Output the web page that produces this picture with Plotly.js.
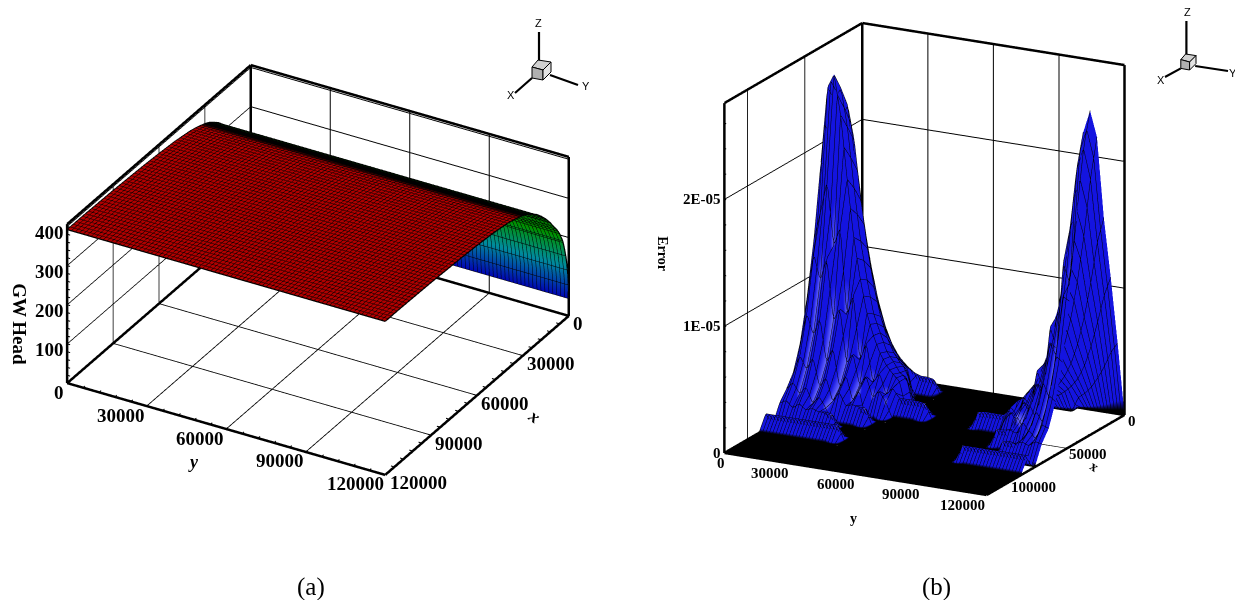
<!DOCTYPE html>
<html><head><meta charset="utf-8">
<script src="https://cdn.plot.ly/plotly-3.0.1.min.js"></script>
<style>html,body{margin:0;padding:0;background:#fff}#c{width:1235px;height:600px}</style>
</head><body><div id="c"></div>
<script>
// ---------- data ----------
const headX=[0,500,1000,1500,2000,3000,4000,6000,8000,10000,12000,15000,18000,21000,24000,27000,30000,35000,40000,50000,60000,70000,80000,90000,100000,110000,120000];
const headValues=[44,100,125,145,160,185,205,230,248,262,278,298,315,330,341,351,358,366,372,379,383,386,388,390,391,392,392];
const headY=[0,20000,40000,60000,80000,100000,120000];
const errX=[0,6000,12000,18000,24000,30000,36000,42000,48000,54000,60000,66000,72000,78000,84000,90000,96000,102000,108000,114000,120000];
const errY=[0,3000,6000,9000,12000,15000,18000,21000,24000,27000,30000,33000,36000,39000,42000,45000,48000,51000,54000,57000,60000,63000,66000,69000,72000,75000,78000,81000,84000,87000,90000,93000,96000,99000,102000,105000,108000,111000,114000,117000,120000];
// error in units of 1E-07; one row per errX station; y = 0..60000
const errLeft=[
[0,0,0,0,0,0,0,0,0,0,0,0,0,0,0,0,0,0,0,0,0],
[42,56,60,52,40,30,22,16,12,0,0,0,0,0,0,0,0,0,0,0,0],
[85,110,115,100,78,58,42,31,24,19,15,13,13,12,0,0,0,0,0,0,0],
[120,158,165,145,112,84,62,46,35,27,22,0,0,0,0,0,0,0,0,0,0],
[165,215,225,198,152,115,85,63,47,36,29,24,0,0,0,0,0,0,0,0,0],
[178,232,242,212,165,124,94,68,54,40,33,25,22,0,0,0,0,0,0,0,0],
[185,245,256,225,175,130,98,72,55,42,33,27,22,0,0,0,0,0,0,0,0],
[128,150,175,125,140,72,88,38,52,22,30,14,20,13,13,13,13,12,0,0,0],
[85,120,100,118,70,80,38,46,22,30,14,20,12,0,0,0,0,0,0,0,0],
[52,76,60,74,40,52,22,32,13,22,0,0,0,0,0,0,0,0,0,0,0],
[32,46,36,46,24,32,14,22,12,14,13,13,0,0,0,0,0,0,0,0,0],
[22,28,20,26,14,20,12,0,0,0,0,0,0,0,0,0,0,0,0,0,0],
[14,17,12,16,12,14,12,13,12,0,0,0,0,0,0,0,0,0,0,0,0],
[0,0,0,0,0,0,0,0,0,0,0,0,0,0,0,0,0,0,0,0,0],
[12,12,12,12,12,12,12,12,12,12,12,12,0,0,0,0,0,0,0,0,0],
[0,0,0,0,0,0,0,0,0,0,0,0,0,0,0,0,0,0,0,0,0],
[0,0,0,0,0,0,0,0,0,0,0,0,0,0,0,0,0,0,0,0,0],
[0,0,0,0,0,0,0,0,0,0,0,0,0,0,0,0,0,0,0,0,0],
[0,0,0,0,0,0,0,0,0,0,0,0,0,0,0,0,0,0,0,0,0],
[0,0,0,0,0,0,0,0,0,0,0,0,0,0,0,0,0,0,0,0,0],
[0,0,0,0,0,0,0,0,0,0,0,0,0,0,0,0,0,0,0,0,0]];
// y = 63000..120000
const errRight=[
[0,0,0,0,0,0,0,0,0,0,0,0,0,0,0,0,0,0,0,0],
[0,0,0,0,0,0,0,0,0,0,0,0,0,12,16,22,30,40,52,60],
[0,0,0,0,0,0,0,0,12,13,13,15,19,24,31,42,58,78,100,115],
[0,0,0,0,0,0,0,0,0,0,0,22,27,35,46,62,84,112,145,165],
[0,0,0,0,0,0,0,0,0,0,24,29,36,47,63,85,115,152,198,232],
[0,0,0,0,0,0,0,0,0,22,27,33,42,55,72,98,130,175,225,256],
[0,0,0,0,0,0,0,0,0,22,25,33,40,54,68,94,124,165,212,242],
[0,0,0,0,12,13,13,13,13,20,14,30,22,52,38,88,72,140,125,175],
[0,0,0,0,0,0,0,0,0,12,20,14,30,22,46,38,80,70,118,115],
[0,0,0,0,0,0,0,0,0,0,0,0,22,13,32,22,52,40,74,70],
[0,0,0,0,0,0,0,0,0,0,13,13,14,12,22,14,32,24,46,42],
[0,0,0,0,0,0,0,0,0,0,0,0,0,0,0,12,20,14,26,24],
[0,0,0,0,0,0,0,0,0,0,0,0,0,12,13,12,14,12,16,15],
[0,0,0,0,0,0,0,0,0,0,0,0,0,0,0,0,0,0,0,0],
[0,0,0,0,0,0,0,0,0,12,12,12,12,12,12,12,12,12,12,12],
[0,0,0,0,0,0,0,0,0,0,0,0,0,0,0,0,0,0,0,0],
[0,0,0,0,0,0,0,0,0,0,0,0,0,0,0,0,0,0,0,0],
[0,0,0,0,0,0,0,0,0,0,0,0,0,0,0,0,0,0,0,0],
[0,0,0,0,0,0,0,0,0,0,0,0,0,0,0,0,0,0,0,0],
[0,0,0,0,0,0,0,0,0,0,0,0,0,0,0,0,0,0,0,0],
[0,0,0,0,0,0,0,0,0,0,0,0,0,0,0,0,0,0,0,0]];
const gridA=[0,30000,60000,90000,120000];
const labelsA=['0','30000','60000','90000','120000'];
const zTicksA=[100,200,300,400];
const zLabelsA=['100','200','300','400'];
const yTicksB=[0,30000,60000,90000,120000];
const yLabelsB=['0','30000','60000','90000','120000'];
const xTicksB=[0,50000,100000];
const xLabelsB=['0','50000','100000'];
const zTicksB=[0,100,200];
const zLabelsB=['0','1E-05','2E-05'];

// ---------- helpers ----------
const XMAX=120000,YMAX=120000,ZA=406,ZB=276;
function seg(list,color,width,scene){
  const x=[],y=[],z=[];
  list.forEach(s=>{x.push(s[0],s[3],null);y.push(s[1],s[4],null);z.push(s[2],s[5],null);});
  return {type:'scatter3d',mode:'lines',x,y,z,line:{color,width},hoverinfo:'skip',showlegend:false,scene};
}
function box(zm){return [
 [XMAX,0,0,XMAX,YMAX,0],[0,YMAX,0,XMAX,YMAX,0],[XMAX,0,0,XMAX,0,zm],[0,YMAX,0,0,YMAX,zm],[0,0,0,0,0,zm],
 [0,0,zm,0,YMAX,zm],[0,0,zm,XMAX,0,zm],[0,0,0,XMAX,0,0],[0,0,0,0,YMAX,0]];}
function minor(xs,ys,zs,ln,zln){const m=[];
 xs.forEach(v=>m.push([v,YMAX,0,v,YMAX-ln,0]));
 ys.forEach(v=>m.push([XMAX,v,0,XMAX-ln,v,0]));
 zs.forEach(v=>m.push([XMAX,0,v,XMAX,zln,v]));
 return m;}
function steps(a,b,s){const r=[];for(let v=a;v<=b;v+=s)r.push(v);return r;}
function ann(x,y,z,text,xs,ys,size,extra){return Object.assign({x,y,z,text,showarrow:false,xshift:xs,yshift:ys,xanchor:'center',yanchor:'middle',
  font:{family:'"Liberation Serif",serif',size,color:'#000',weight:700}},extra||{});}
const px=x=>x/1235,py=y=>1-y/600;
function line(a,b,c,d,w){return {type:'line',xref:'paper',yref:'paper',x0:px(a),y0:py(b),x1:px(c),y1:py(d),line:{color:'#000',width:w}};}
function poly(pts,fill){return {type:'path',xref:'paper',yref:'paper',path:'M'+pts.map(p=>px(p[0])+','+py(p[1])).join('L')+'Z',fillcolor:fill,line:{color:'#000',width:1}};}
function note(x,y,t,size,fam){return {xref:'paper',yref:'paper',x:px(x),y:py(y),text:t,showarrow:false,xanchor:'center',yanchor:'middle',font:{family:fam,size,color:'#000'}};}
function triad(cx,cy,s,top,ry,rx){
  return [line(cx-2*s,cy,cx-2*s,top,2.2),line(cx+9*s,cy+5*s,ry[0],ry[1],2.2),line(cx-9*s,cy+8*s,rx[0],rx[1],2.2),
  poly([[cx-9*s,cy-3*s],[cx-3*s,cy-10*s],[cx+10*s,cy-8*s],[cx+2*s,cy]],'#d0d0d0'),
  poly([[cx-9*s,cy-3*s],[cx+2*s,cy],[cx+2*s,cy+10*s],[cx-9*s,cy+8*s]],'#b0b0b0'),
  poly([[cx+2*s,cy],[cx+10*s,cy-8*s],[cx+10*s,cy+2*s],[cx+2*s,cy+10*s]],'#e4e4e4')];
}
function axis(range,tickvals){return {range,tickvals,tickmode:'array',showticklabels:false,ticks:'',title:{text:''},showgrid:true,gridcolor:'#000',gridwidth:2,
  zeroline:false,showline:false,showbackground:false,showspikes:false,autorange:false};}

// ---------- traces ----------
const head={type:'surface',scene:'scene',x:headX,y:headY,z:headY.map(()=>headValues),cmin:40,cmax:400,showscale:false,hoverinfo:'skip',
 colorscale:[[0,'#0000b4'],[0.25,'#008c9c'],[0.5,'#009000'],[0.83,'#006400'],[0.86,'#000'],[0.885,'#000'],[0.9,'#b00000'],[1,'#b00000']],
 lighting:{ambient:1,diffuse:0,specular:0,fresnel:0,roughness:1},
 contours:{x:{show:true,start:0,end:120000,size:2000,color:'#000',width:1},y:{show:true,start:0,end:120000,size:1500,color:'#000',width:1},
   z:{show:true,start:80,end:320,size:40,color:'#000',width:2}}};
const errRows=errLeft.map((r,i)=>r.concat(errRight[i]));
const errZ=errY.map((_,j)=>errX.map((_,i)=>errRows[i][j]));
// vertex shade: black on the zero floor, blue on the mound, lighter in the sawtooth valleys of the front face
const errShade=errY.map((_,j)=>errX.map((xv,i)=>{
  const r=errRows[i],v=r[j];
  if(v===0) return 0;
  const valley=j>0&&j<r.length-1&&v<r[j-1]&&v<r[j+1];
  const endOfRow=j<r.length-1&&j>0&&(r[j+1]===0||r[j-1]===0);
  return (xv>=42000&&((valley&&v>=13)||endOfRow))?1:0.5;
}));
const err={type:'surface',scene:'scene2',x:errX,y:errY,z:errZ,surfacecolor:errShade,cmin:0,cmax:1,showscale:false,hoverinfo:'skip',
 colorscale:[[0,'#000'],[0.03,'#000'],[0.1,'#1414e0'],[0.8,'#1414e0'],[1,'#6a6aff']],
 lighting:{ambient:1,diffuse:0,specular:0,fresnel:0,roughness:1},
 contours:{x:{show:true,start:0,end:120000,size:6000,color:'#000',width:2},y:{show:true,start:0,end:120000,size:1500,color:'#000',width:2}}};
const headEdges=[
 {type:'scatter3d',scene:'scene',mode:'lines',x:headX,y:headX.map(()=>YMAX),z:headValues,line:{color:'#000',width:2.5},hoverinfo:'skip',showlegend:false},
 {type:'scatter3d',scene:'scene',mode:'lines',x:headX,y:headX.map(()=>0),z:headValues,line:{color:'#000',width:2.5},hoverinfo:'skip',showlegend:false},
 {type:'scatter3d',scene:'scene',mode:'lines',x:headY.map(()=>XMAX),y:headY,z:headY.map(()=>headValues[headValues.length-1]),line:{color:'#000',width:2.5},hoverinfo:'skip',showlegend:false}];
const data=[head,err].concat(headEdges,[
 seg(box(ZA),'#000',5,'scene'),
 seg(minor(steps(6000,114000,6000),steps(6000,114000,6000),steps(20,400,20),1300,1100),'#000',2,'scene'),
 seg(box(ZB),'#000',5,'scene2'),
 seg(minor(steps(10000,110000,10000),steps(6000,114000,6000),steps(20,260,20),1000,800),'#000',2,'scene2')]);

// ---------- labels ----------
const annA=[];
gridA.forEach((v,i)=>annA.push(ann(XMAX,v,0,labelsA[i],i==0?-8.5:(i==4?-30:-26),-9,19)));
gridA.forEach((v,i)=>annA.push(ann(v,YMAX,0,labelsA[i],i==0?9:(i==4?33:28),-8,19)));
zTicksA.forEach((v,i)=>annA.push(ann(XMAX,0,v,zLabelsA[i],-18,-6,19)));
annA.push(ann(XMAX,60000,0,'<i>y</i>',-33,-33,18));
annA.push(ann(60000,YMAX,0,'<i>x</i>',57,-21,18,{textangle:35}));
annA.push(ann(XMAX,0,150,'GW Head',-48,0,19,{textangle:90}));
const annB=[];
yTicksB.forEach((v,i)=>annB.push(ann(XMAX,v,0,yLabelsB[i],i==0?-3:(i==4?-23:-19),-10,15)));
xTicksB.forEach((v,i)=>annB.push(ann(v,YMAX,0,xLabelsB[i],i==0?8:(i==1?22:25),-6,15)));
zTicksB.forEach((v,i)=>annB.push(ann(XMAX,0,v,zLabelsB[i],i==0?-7:-22,0,15)));
annB.push(ann(XMAX,60000,0,'y',-1,-45,14));
annB.push(ann(50000,YMAX,0,'x',28,-18,14,{textangle:35}));
annB.push(ann(XMAX,0,160,'Error',-61,-4,14,{textangle:90}));

const dA=1.6,dB=1.8,kA=1.36,kB=1.144;
const sceneA={domain:{x:[0,0.515],y:[0.1,1]},aspectmode:'manual',aspectratio:{x:kA,y:kA,z:0.5*kA},
 camera:{eye:{x:0.75*dA,y:0.433*dA,z:0.5*dA},center:{x:0,y:0,z:0},up:{x:0,y:0,z:1},projection:{type:'orthographic'}},
 xaxis:axis([0,XMAX],gridA),yaxis:axis([0,YMAX],gridA),zaxis:axis([0,ZA],zTicksA),annotations:annA};
const sceneB={domain:{x:[0.5,0.996],y:[0.137,1]},aspectmode:'manual',aspectratio:{x:kB,y:kB,z:1.24*kB},
 camera:{eye:{x:0.8425*dB,y:0.4427*dB,z:0.305*dB},center:{x:0,y:0,z:0},up:{x:0,y:0,z:1},projection:{type:'orthographic'}},
 xaxis:axis([0,XMAX],xTicksB),yaxis:axis([0,YMAX],yTicksB),zaxis:axis([0,ZB],zTicksB),annotations:annB};
const sans='"Liberation Sans",Arial,sans-serif',lm='"Liberation Serif",serif';
const layout={width:1235,height:600,margin:{l:0,r:0,t:0,b:0},paper_bgcolor:'#fff',showlegend:false,scene:sceneA,scene2:sceneB,
 shapes:[].concat(triad(541,70,1,32,[578,85],[515,93]),triad(1188,62,0.8,21,[1228,71],[1165,77])),
 annotations:[note(311,587,'(a)',25,lm),note(936,587,'(b)',25,lm),
  note(538,23,'Z',11,sans),note(586,86,'Y',11,sans),note(511,95,'X',11,sans),
  note(1187,12,'Z',11,sans),note(1233,73,'Y',11,sans),note(1161,80,'X',11,sans)]};
Plotly.newPlot('c',data,layout,{displayModeBar:false});
</script></body></html>
